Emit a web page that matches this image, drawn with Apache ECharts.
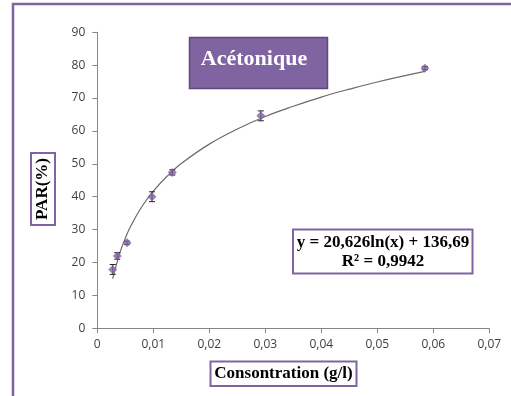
<!DOCTYPE html>
<html><head><meta charset="utf-8">
<script src="https://cdn.jsdelivr.net/npm/echarts@6/dist/echarts.min.js"></script>
<style>html,body{margin:0;padding:0;background:#fff}#c{width:511px;height:396px}</style>
</head><body><div id="c"></div>
<script>
// Measured points (concentration g/l, PAR %)
const concentrations = [0.00275, 0.00357, 0.0053, 0.00977, 0.0134, 0.0292, 0.0585];
const parValues = [17.9, 22.0, 26.0, 40.0, 47.4, 64.6, 79.1];
const parErrors = [1.5, 1.0, 0.5, 1.5, 0.8, 1.5, 0.5];
// Logarithmic trend line
const trendX = [0.00275, 0.004, 0.005, 0.006, 0.008, 0.01, 0.0125, 0.015, 0.02, 0.025, 0.03, 0.035, 0.04, 0.045, 0.05, 0.0585];
const trendY = [15.1, 22.8, 27.4, 31.2, 37.1, 41.7, 46.3, 50.1, 56.0, 60.6, 64.4, 67.5, 70.3, 72.7, 74.9, 78.1];
const xTicks = [0, 0.01, 0.02, 0.03, 0.04, 0.05, 0.06, 0.07];
const yTicks = [0, 10, 20, 30, 40, 50, 60, 70, 80, 90];
const chartTitle = 'Acétonique';
const equationLines = ['y = 20,626ln(x) + 136,69', 'R² = 0,9942'];
const xTitle = 'Consontration (g/l)';
const yTitle = 'PAR(%)';

const purple = '#8064A2';
const chart = echarts.init(document.getElementById('c'));
const serif = '"Liberation Serif", "DejaVu Serif", serif';
const labelFont = 'Open Sans';

chart.setOption({
  animation: false,
  grid: {left: 97.3, right: 21.7, top: 32.3, bottom: 67.7},
  xAxis: {
    type: 'value', min: 0, max: 0.07, interval: 0.01,
    axisLine: {lineStyle: {color: '#868686', width: 1}},
    axisTick: {show: true, length: 5, lineStyle: {color: '#868686'}},
    splitLine: {show: false},
    axisLabel: {color: '#404040', fontFamily: labelFont, fontSize: 12, margin: 10,
      formatter: v => (Math.round(v * 100) / 100).toString().replace('.', ',')}
  },
  yAxis: {
    type: 'value', min: 0, max: 90, interval: 10,
    axisLine: {show: true, lineStyle: {color: '#868686', width: 1}},
    axisTick: {show: true, length: 5, lineStyle: {color: '#868686'}},
    splitLine: {show: false},
    axisLabel: {color: '#404040', fontFamily: labelFont, fontSize: 12, margin: 12}
  },
  series: [
    {
      type: 'line', data: trendX.map((x, i) => [x, trendY[i]]), smooth: 0.4,
      showSymbol: false, lineStyle: {color: '#6b6b6b', width: 1.2}, z: 2
    },
    {
      type: 'custom',
      data: concentrations.map((x, i) => [x, parValues[i], parErrors[i]]),
      renderItem: (params, api) => {
        const x = api.value(0), y = api.value(1), e = api.value(2);
        const top = api.coord([x, y + e]);
        const bot = api.coord([x, y - e]);
        const st = {stroke: '#222', lineWidth: 1};
        return {type: 'group', children: [
          {type: 'line', shape: {x1: top[0], y1: top[1], x2: bot[0], y2: bot[1]}, style: st},
          {type: 'line', shape: {x1: top[0] - 3, y1: top[1], x2: top[0] + 3, y2: top[1]}, style: st},
          {type: 'line', shape: {x1: bot[0] - 3, y1: bot[1], x2: bot[0] + 3, y2: bot[1]}, style: st}
        ]};
      },
      z: 3
    },
    {
      type: 'scatter', data: concentrations.map((x, i) => [x, parValues[i]]),
      symbol: 'diamond', symbolSize: 9, itemStyle: {color: purple}, z: 4
    }
  ],
  graphic: [
    {type: 'rect', shape: {x: 13, y: 4, width: 520, height: 420},
      style: {fill: 'none', stroke: purple, lineWidth: 2.5}, silent: true},
    {type: 'rect', shape: {x: 189.5, y: 37.5, width: 138, height: 51},
      style: {fill: purple, stroke: '#5E4A7A', lineWidth: 1.5}, z: 10},
    {type: 'text', x: 254, y: 59, z: 11,
      style: {text: chartTitle, fill: '#fff', font: 'bold 22px ' + serif, align: 'center', verticalAlign: 'middle'}},
    {type: 'rect', shape: {x: 293, y: 229.5, width: 179.5, height: 44},
      style: {fill: '#fff', stroke: purple, lineWidth: 2}, z: 10},
    {type: 'text', x: 383, y: 242.5, z: 11,
      style: {text: equationLines[0], fill: '#000', font: 'bold 17px ' + serif, align: 'center', verticalAlign: 'middle'}},
    {type: 'text', x: 383, y: 262, z: 11,
      style: {text: equationLines[1], fill: '#000', font: 'bold 17px ' + serif, align: 'center', verticalAlign: 'middle'}},
    {type: 'rect', shape: {x: 31, y: 153, width: 24, height: 72},
      style: {fill: '#fff', stroke: purple, lineWidth: 2}, z: 10},
    {type: 'text', x: 43, y: 189, rotation: Math.PI / 2, z: 11,
      style: {text: yTitle, fill: '#000', font: 'bold 17px ' + serif, align: 'center', verticalAlign: 'middle'}},
    {type: 'rect', shape: {x: 210.5, y: 361.5, width: 146, height: 24.5},
      style: {fill: '#fff', stroke: purple, lineWidth: 2}, z: 10},
    {type: 'text', x: 283.5, y: 374, z: 11,
      style: {text: xTitle, fill: '#000', font: 'bold 17px ' + serif, align: 'center', verticalAlign: 'middle'}}
  ]
});
</script></body></html>
